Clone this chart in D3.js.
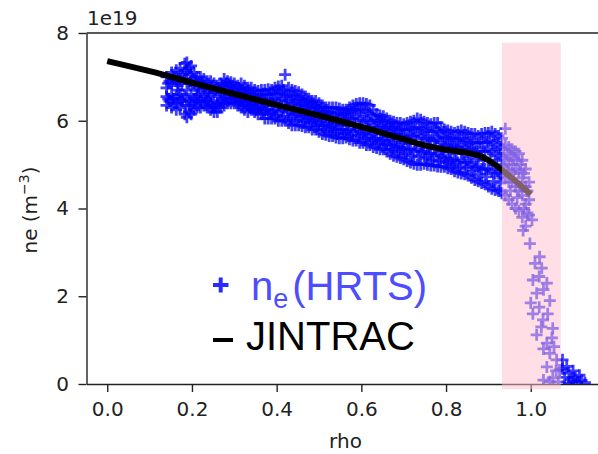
<!DOCTYPE html>
<html><head><meta charset="utf-8">
<script src="https://cdn.jsdelivr.net/npm/d3@7"></script>
<style>body{margin:0;background:#fff} svg{display:block}</style>
</head><body>
<svg id="c" width="598" height="454"></svg>
<script>
const xTicks = [0.0, 0.2, 0.4, 0.6, 0.8, 1.0];
const xTickLabels = ["0.0", "0.2", "0.4", "0.6", "0.8", "1.0"];
const yTicks = [0, 2, 4, 6, 8];
const yTickLabels = ["0", "2", "4", "6", "8"];

const jintracRho = [0.0, 0.1, 0.2, 0.3, 0.4, 0.5, 0.6, 0.7, 0.75, 0.8, 0.85, 0.88, 0.9, 0.95, 1.0];
const jintracNe  = [7.36, 7.13, 6.87, 6.61, 6.36, 6.12, 5.86, 5.58, 5.44, 5.34, 5.27, 5.2, 5.1, 4.74, 4.32];

// HRTS measurements: [rho, ne (1e19 m^-3)]
const hrts = [
[0.140,7.00],[0.140,6.75],[0.140,6.55],[0.140,6.35],[0.147,6.90],[0.147,6.45],
[0.152,7.10],[0.152,6.85],[0.152,6.60],[0.152,6.30],[0.158,6.95],[0.158,6.40],
[0.163,7.15],[0.163,6.90],[0.163,6.55],[0.163,6.25],[0.168,7.00],[0.168,6.70],
[0.172,7.20],[0.172,6.95],[0.172,6.60],[0.172,6.30],[0.178,7.05],[0.178,6.45],
[0.183,7.30],[0.183,6.95],[0.183,6.55],[0.183,6.15],[0.188,7.33],[0.188,7.10],[0.188,6.70],[0.188,6.08],
[0.193,7.20],[0.193,6.85],[0.193,6.45],[0.193,6.20],[0.198,7.25],[0.198,6.90],[0.198,6.60],[0.198,6.15],
[0.205,7.10],[0.205,6.80],[0.205,6.50],[0.205,6.25],[0.212,7.00],[0.212,6.75],[0.212,6.55],[0.212,6.30],
[0.220,7.00],[0.220,6.70],[0.220,6.45],[0.220,6.30],[0.228,6.95],[0.228,6.80],[0.228,6.55],[0.228,6.35],
[0.236,6.90],[0.236,6.65],[0.236,6.45],[0.236,6.30],[0.244,6.90],[0.244,6.60],[0.244,6.40],[0.244,6.25],
[0.252,6.85],[0.252,6.65],[0.252,6.35],[0.252,6.20],[0.260,6.80],[0.260,6.55],[0.260,6.40],[0.260,6.20],
[0.268,6.85],[0.268,6.65],[0.268,6.45],[0.268,6.30],[0.276,6.95],[0.276,6.70],[0.276,6.50],[0.276,6.35],
[0.284,6.90],[0.284,6.75],[0.284,6.55],[0.284,6.40],[0.292,6.88],[0.292,6.65],[0.292,6.50],[0.292,6.40],
[0.300,6.85],[0.300,6.70],[0.300,6.55],[0.300,6.40],[0.308,6.80],[0.308,6.60],[0.308,6.45],[0.308,6.35],
[0.316,6.85],[0.316,6.65],[0.316,6.45],[0.316,6.30],[0.324,6.80],[0.324,6.55],[0.324,6.40],[0.324,6.25],
[0.332,6.75],[0.332,6.55],[0.332,6.35],[0.332,6.20],[0.340,6.75],[0.340,6.50],[0.340,6.35],[0.340,6.25],
[0.348,6.70],[0.348,6.50],[0.348,6.30],[0.348,6.20],[0.356,6.68],[0.356,6.45],[0.356,6.30],[0.356,6.15],
[0.364,6.70],[0.364,6.50],[0.364,6.30],[0.364,6.15],[0.372,6.70],[0.372,6.45],[0.372,6.25],[0.372,6.05],
[0.380,6.72],[0.380,6.50],[0.380,6.25],[0.380,6.05],[0.388,6.70],[0.388,6.45],[0.388,6.20],[0.388,6.05],
[0.396,6.75],[0.396,6.50],[0.396,6.25],[0.396,6.05],[0.404,6.78],[0.404,6.45],[0.404,6.20],[0.404,6.00],
[0.412,6.80],[0.412,6.50],[0.412,6.25],[0.412,6.00],[0.420,7.05],[0.420,6.60],[0.420,6.35],[0.420,6.00],
[0.428,6.75],[0.428,6.45],[0.428,6.20],[0.428,5.95],[0.436,6.70],[0.436,6.40],[0.436,6.15],[0.436,5.90],
[0.444,6.68],[0.444,6.40],[0.444,6.15],[0.444,5.90],[0.452,6.65],[0.452,6.35],[0.452,6.10],[0.452,5.90],
[0.460,6.60],[0.460,6.35],[0.460,6.10],[0.460,5.88],[0.468,6.55],[0.468,6.30],[0.468,6.05],[0.468,5.85],
[0.476,6.50],[0.476,6.30],[0.476,6.05],[0.476,5.85],[0.484,6.45],[0.484,6.25],[0.484,6.00],[0.484,5.80],
[0.492,6.45],[0.492,6.20],[0.492,6.00],[0.492,5.80],[0.500,6.40],[0.500,6.20],[0.500,5.95],[0.500,5.75],
[0.508,6.35],[0.508,6.15],[0.508,5.90],[0.508,5.70],[0.516,6.30],[0.516,6.10],[0.516,5.90],[0.516,5.68],
[0.524,6.30],[0.524,6.05],[0.524,5.85],[0.524,5.65],[0.532,6.30],[0.532,6.05],[0.532,5.85],[0.532,5.65],
[0.540,6.30],[0.540,6.00],[0.540,5.80],[0.540,5.62],[0.548,6.28],[0.548,6.05],[0.548,5.80],[0.548,5.60],
[0.556,6.25],[0.556,6.00],[0.556,5.80],[0.556,5.60],[0.564,6.25],[0.564,6.00],[0.564,5.75],[0.564,5.62],
[0.572,6.30],[0.572,6.05],[0.572,5.80],[0.572,5.58],[0.580,6.35],[0.580,6.05],[0.580,5.75],[0.580,5.55],
[0.588,6.38],[0.588,6.10],[0.588,5.80],[0.588,5.55],[0.596,6.40],[0.596,6.05],[0.596,5.75],[0.596,5.50],
[0.604,6.40],[0.604,6.00],[0.604,5.70],[0.604,5.50],[0.612,6.38],[0.612,6.00],[0.612,5.70],[0.612,5.45],
[0.620,6.35],[0.620,5.95],[0.620,5.65],[0.620,5.45],[0.628,6.25],[0.628,5.90],[0.628,5.60],[0.628,5.40],
[0.636,6.15],[0.636,5.85],[0.636,5.60],[0.636,5.38],[0.644,6.12],[0.644,5.85],[0.644,5.55],[0.644,5.35],
[0.652,6.10],[0.652,5.80],[0.652,5.55],[0.652,5.35],[0.660,6.05],[0.660,5.80],[0.660,5.50],[0.660,5.30],
[0.668,6.00],[0.668,5.75],[0.668,5.45],[0.668,5.25],[0.676,5.98],[0.676,5.70],[0.676,5.45],[0.676,5.20],
[0.684,5.95],[0.684,5.70],[0.684,5.40],[0.684,5.18],[0.692,5.95],[0.692,5.65],[0.692,5.40],[0.692,5.15],
[0.700,5.92],[0.700,5.65],[0.700,5.35],[0.700,5.12],[0.708,5.95],[0.708,5.60],[0.708,5.35],[0.708,5.08],
[0.716,5.98],[0.716,5.65],[0.716,5.35],[0.716,5.05],[0.724,6.00],[0.724,5.65],[0.724,5.30],[0.724,5.02],
[0.732,6.05],[0.732,5.70],[0.732,5.35],[0.732,5.00],[0.740,6.02],[0.740,5.65],[0.740,5.30],[0.740,5.00],
[0.748,5.98],[0.748,5.60],[0.748,5.30],[0.748,5.02],[0.756,5.95],[0.756,5.60],[0.756,5.25],[0.756,5.00],
[0.764,5.92],[0.764,5.55],[0.764,5.25],[0.764,4.98],[0.772,5.95],[0.772,5.55],[0.772,5.20],[0.772,4.98],
[0.780,5.95],[0.780,5.60],[0.780,5.25],[0.780,4.96],[0.788,5.85],[0.788,5.50],[0.788,5.20],[0.788,4.95],
[0.796,5.80],[0.796,5.45],[0.796,5.15],[0.796,4.95],[0.804,5.78],[0.804,5.45],[0.804,5.15],[0.804,4.92],
[0.812,5.75],[0.812,5.40],[0.812,5.10],[0.812,4.90],[0.820,5.72],[0.820,5.40],[0.820,5.10],[0.820,4.85],
[0.828,5.75],[0.828,5.40],[0.828,5.05],[0.828,4.82],[0.836,5.78],[0.836,5.45],[0.836,5.10],[0.836,4.80],
[0.844,5.75],[0.844,5.40],[0.844,5.05],[0.844,4.78],[0.852,5.72],[0.852,5.35],[0.852,5.05],[0.852,4.75],
[0.860,5.70],[0.860,5.35],[0.860,5.00],[0.860,4.70],[0.868,5.70],[0.868,5.30],[0.868,4.95],[0.868,4.65],
[0.876,5.65],[0.876,5.30],[0.876,4.95],[0.876,4.62],[0.884,5.70],[0.884,5.30],[0.884,4.90],[0.884,4.58],
[0.892,5.72],[0.892,5.30],[0.892,4.90],[0.892,4.55],[0.900,5.72],[0.900,5.35],[0.900,4.90],[0.900,4.50],
[0.908,5.75],[0.908,5.30],[0.908,4.85],[0.908,4.45],[0.916,5.70],[0.916,5.25],[0.916,4.80],[0.916,4.42],
[0.924,5.65],[0.924,5.20],[0.924,4.80],[0.924,4.40],[0.932,5.60],[0.932,5.15],[0.932,4.75],[0.932,4.35],
[0.144,6.85],[0.144,6.50],[0.156,7.00],[0.156,6.50],[0.166,6.80],[0.166,6.40],[0.176,6.85],[0.176,6.50],
[0.186,7.15],[0.186,6.35],[0.196,7.05],[0.196,6.35],[0.202,6.95],[0.202,6.40],[0.209,6.90],[0.209,6.45],
[0.216,6.85],[0.216,6.60],[0.224,6.85],[0.224,6.40],[0.232,6.75],[0.232,6.45],[0.240,6.75],[0.240,6.50],
[0.248,6.75],[0.248,6.30],[0.256,6.70],[0.256,6.30],[0.264,6.70],[0.264,6.35],[0.272,6.80],[0.272,6.40],
[0.280,6.85],[0.280,6.60],[0.288,6.80],[0.288,6.50],[0.296,6.78],[0.296,6.60],[0.304,6.75],[0.304,6.50],
[0.312,6.72],[0.312,6.40],[0.320,6.70],[0.320,6.35],[0.328,6.65],[0.328,6.45],[0.336,6.62],[0.336,6.30],
[0.344,6.60],[0.344,6.40],[0.352,6.55],[0.352,6.25],[0.360,6.58],[0.360,6.38],[0.368,6.60],[0.368,6.20],
[0.376,6.60],[0.376,6.35],[0.384,6.60],[0.384,6.15],[0.392,6.62],[0.392,6.35],[0.400,6.62],[0.400,6.12],
[0.408,6.65],[0.408,6.35],[0.416,6.70],[0.416,6.10],[0.424,6.55],[0.424,6.30],[0.432,6.58],[0.432,6.05],
[0.440,6.55],[0.440,6.25],[0.448,6.50],[0.448,6.00],[0.456,6.48],[0.456,6.22],[0.464,6.45],[0.464,5.98],
[0.472,6.42],[0.472,6.15],[0.480,6.38],[0.480,5.95],[0.488,6.35],[0.488,6.10],[0.496,6.30],[0.496,5.88],
[0.504,6.28],[0.504,6.05],[0.512,6.22],[0.512,5.80],[0.520,6.20],[0.520,5.98],[0.528,6.18],[0.528,5.75],
[0.536,6.15],[0.536,5.92],[0.544,6.18],[0.544,5.70],[0.552,6.12],[0.552,5.90],[0.560,6.15],[0.560,5.70],
[0.568,6.18],[0.568,5.90],[0.576,6.20],[0.576,5.68],[0.584,6.25],[0.584,5.92],[0.592,6.25],[0.592,5.65],
[0.600,6.25],[0.600,5.85],[0.608,6.20],[0.608,5.60],[0.616,6.18],[0.616,5.82],[0.624,6.12],[0.624,5.55],
[0.632,6.05],[0.632,5.75],[0.640,6.00],[0.640,5.48],[0.648,5.98],[0.648,5.70],[0.656,5.95],[0.656,5.45],
[0.664,5.90],[0.664,5.62],[0.672,5.85],[0.672,5.35],[0.680,5.85],[0.680,5.55],[0.688,5.80],[0.688,5.30],
[0.696,5.80],[0.696,5.50],[0.704,5.78],[0.704,5.25],[0.712,5.80],[0.712,5.48],[0.720,5.82],[0.720,5.20],
[0.728,5.85],[0.728,5.48],[0.736,5.85],[0.736,5.18],[0.744,5.82],[0.744,5.45],[0.752,5.78],[0.752,5.15],
[0.760,5.75],[0.760,5.40],[0.768,5.75],[0.768,5.10],[0.776,5.78],[0.776,5.40],[0.784,5.72],[0.784,5.08],
[0.792,5.65],[0.792,5.32],[0.800,5.62],[0.800,5.05],[0.808,5.60],[0.808,5.30],[0.816,5.58],[0.816,5.00],
[0.824,5.55],[0.824,5.25],[0.832,5.60],[0.832,4.95],[0.840,5.60],[0.840,5.25],[0.848,5.55],[0.848,4.92],
[0.856,5.52],[0.856,5.18],[0.864,5.50],[0.864,4.85],[0.872,5.48],[0.872,5.12],[0.880,5.50],[0.880,4.78],
[0.888,5.50],[0.888,5.10],[0.896,5.52],[0.896,4.72],[0.904,5.55],[0.904,5.10],[0.912,5.50],[0.912,4.62],
[0.920,5.45],[0.920,5.00],[0.928,5.40],[0.928,4.58],[0.936,5.35],[0.936,4.95],
[0.940,5.82],[0.940,5.45],[0.940,5.10],[0.940,4.70],[0.940,4.30],[0.948,5.40],[0.948,5.00],[0.948,4.60],[0.948,4.20],
[0.956,5.35],[0.956,5.00],[0.956,4.60],[0.956,4.10],[0.964,5.30],[0.964,4.90],[0.964,4.50],[0.964,4.00],
[0.972,5.25],[0.972,4.85],[0.972,4.40],[0.972,3.95],[0.980,5.10],[0.980,4.70],[0.980,4.30],[0.980,3.80],
[0.988,4.90],[0.988,4.50],[0.988,4.10],[0.988,3.60],[0.996,4.60],[0.996,4.20],[0.996,3.85],
[0.944,5.25],[0.944,4.85],[0.952,5.20],[0.952,4.40],[0.960,5.15],[0.960,4.80],[0.968,5.10],[0.968,4.25],
[0.976,5.00],[0.976,4.50],[0.984,4.80],[0.984,4.00],[0.992,4.40],[0.992,3.90],
[1.003,3.74],[0.982,3.50],[0.998,3.20],[1.021,2.90],[1.026,2.64],[1.005,2.37],[1.038,2.30],[1.014,2.07],
[1.045,1.90],[1.005,1.60],[1.029,1.46],[1.052,1.27],[1.014,1.12],[1.038,0.93],[1.045,0.70],[1.061,0.55],
[1.038,0.39],[1.068,0.32],[1.030,0.09],[1.052,0.14],[1.010,2.75],[1.020,2.45],[1.030,2.15],[1.000,1.85],
[1.020,1.75],[1.040,1.60],[1.025,1.30],[1.050,1.05],[1.030,0.80],[1.055,0.85],[1.060,0.30],[1.045,0.05],[1.065,0.05],
[1.075,0.55],[1.075,0.35],[1.080,0.15],[1.085,0.40],[1.090,0.25],[1.095,0.10],[1.100,0.30],[1.105,0.15],
[1.110,0.05],[1.115,0.20],[1.120,0.08],[1.128,0.03],[1.090,0.02],[1.100,0.05]
];

const shadeRho = [0.932, 1.071];
const shadeNe = [-0.12, 7.78];

const svg = d3.select("#c");
const x = d3.scaleLinear().domain([-0.049, 1.181]).range([86.5, 607.4]);
const y = d3.scaleLinear().domain([0, 8]).range([384, 33]);
const tickFont = "'DejaVu Sans', sans-serif";

svg.append("defs").append("clipPath").attr("id", "clip")
  .append("rect").attr("x", x.range()[0]).attr("y", y(8)).attr("width", x.range()[1] - x.range()[0]).attr("height", y(0) - y(8));

// scatter
svg.append("g").attr("clip-path", "url(#clip)")
  .selectAll("path").data(hrts).join("path")
  .attr("transform", d => `translate(${x(d[0])},${y(d[1])})`)
  .attr("d", "M-6,0H6M0,-6V6")
  .attr("fill", "none").attr("stroke", "#0000ff").attr("stroke-opacity", 0.75).attr("stroke-width", 2.8);

// JINTRAC line
const line = d3.line().x((d, i) => x(jintracRho[i])).y((d, i) => y(jintracNe[i])).curve(d3.curveMonotoneX);
svg.append("path").attr("d", line(jintracRho)).attr("fill", "none")
  .attr("stroke", "#000").attr("stroke-width", 6).attr("stroke-linejoin", "round");

// axes
const axCol = "#222";
const xAxis = svg.append("g").attr("transform", `translate(0,${y(0)})`)
  .call(d3.axisBottom(x).tickValues(xTicks).tickFormat((d, i) => xTickLabels[i]).tickSize(8).tickPadding(9.5).tickSizeOuter(0));
const yAxis = svg.append("g").attr("transform", `translate(${x.range()[0]},0)`)
  .call(d3.axisLeft(y).tickValues(yTicks).tickFormat((d, i) => yTickLabels[i]).tickSize(8).tickPadding(9.5).tickSizeOuter(0));
[xAxis, yAxis].forEach(g => {
  g.selectAll("text").attr("font-family", tickFont).attr("font-size", 20).attr("fill", axCol);
  g.selectAll("line").attr("stroke", axCol).attr("stroke-width", 1.4);
  g.select(".domain").attr("stroke", axCol).attr("stroke-width", 1.4);
});
svg.append("line").attr("x1", x.range()[0]).attr("x2", 598).attr("y1", y(8)).attr("y2", y(8))
  .attr("stroke", axCol).attr("stroke-width", 1.4);

// shaded band on top
svg.append("rect")
  .attr("x", x(shadeRho[0])).attr("width", x(shadeRho[1]) - x(shadeRho[0]))
  .attr("y", y(shadeNe[1])).attr("height", y(shadeNe[0]) - y(shadeNe[1]))
  .attr("fill", "#ffc0cb").attr("fill-opacity", 0.5);

// offset text
svg.append("text").attr("x", 87).attr("y", 25).attr("font-family", tickFont).attr("font-size", 20).attr("fill", axCol).text("1e19");

// axis labels
svg.append("text").attr("x", 345.5).attr("y", 448).attr("text-anchor", "middle")
  .attr("font-family", tickFont).attr("font-size", 20).attr("fill", axCol).text("rho");
const yl = svg.append("text").attr("transform", "translate(37,210) rotate(-90)").attr("text-anchor", "middle")
  .attr("font-family", tickFont).attr("font-size", 20).attr("fill", axCol);
yl.append("tspan").text("ne (m");
yl.append("tspan").attr("font-size", 14).attr("dy", -8).text("−3");
yl.append("tspan").attr("dy", 8).text(")");

// legend
const legFont = "'Liberation Sans', Arial, sans-serif";
svg.append("path").attr("d", "M213,285H228.5M220.7,277.5V292.5").attr("stroke", "#2a2aff").attr("stroke-width", 4).attr("fill", "none");
const t1 = svg.append("text").attr("x", 251).attr("y", 300).attr("font-family", legFont).attr("font-size", 40).attr("fill", "#4d4dff");
t1.append("tspan").text("n");
t1.append("tspan").attr("font-size", 27).attr("dy", 8).text("e");
t1.append("tspan").attr("dy", -8).attr("dx", 4).text("(HRTS)");
svg.append("line").attr("x1", 213).attr("x2", 233).attr("y1", 340).attr("y2", 340).attr("stroke", "#000").attr("stroke-width", 4);
svg.append("text").attr("x", 246).attr("y", 350).attr("font-family", legFont).attr("font-size", 40).attr("fill", "#000").text("JINTRAC");
</script>
</body></html>
